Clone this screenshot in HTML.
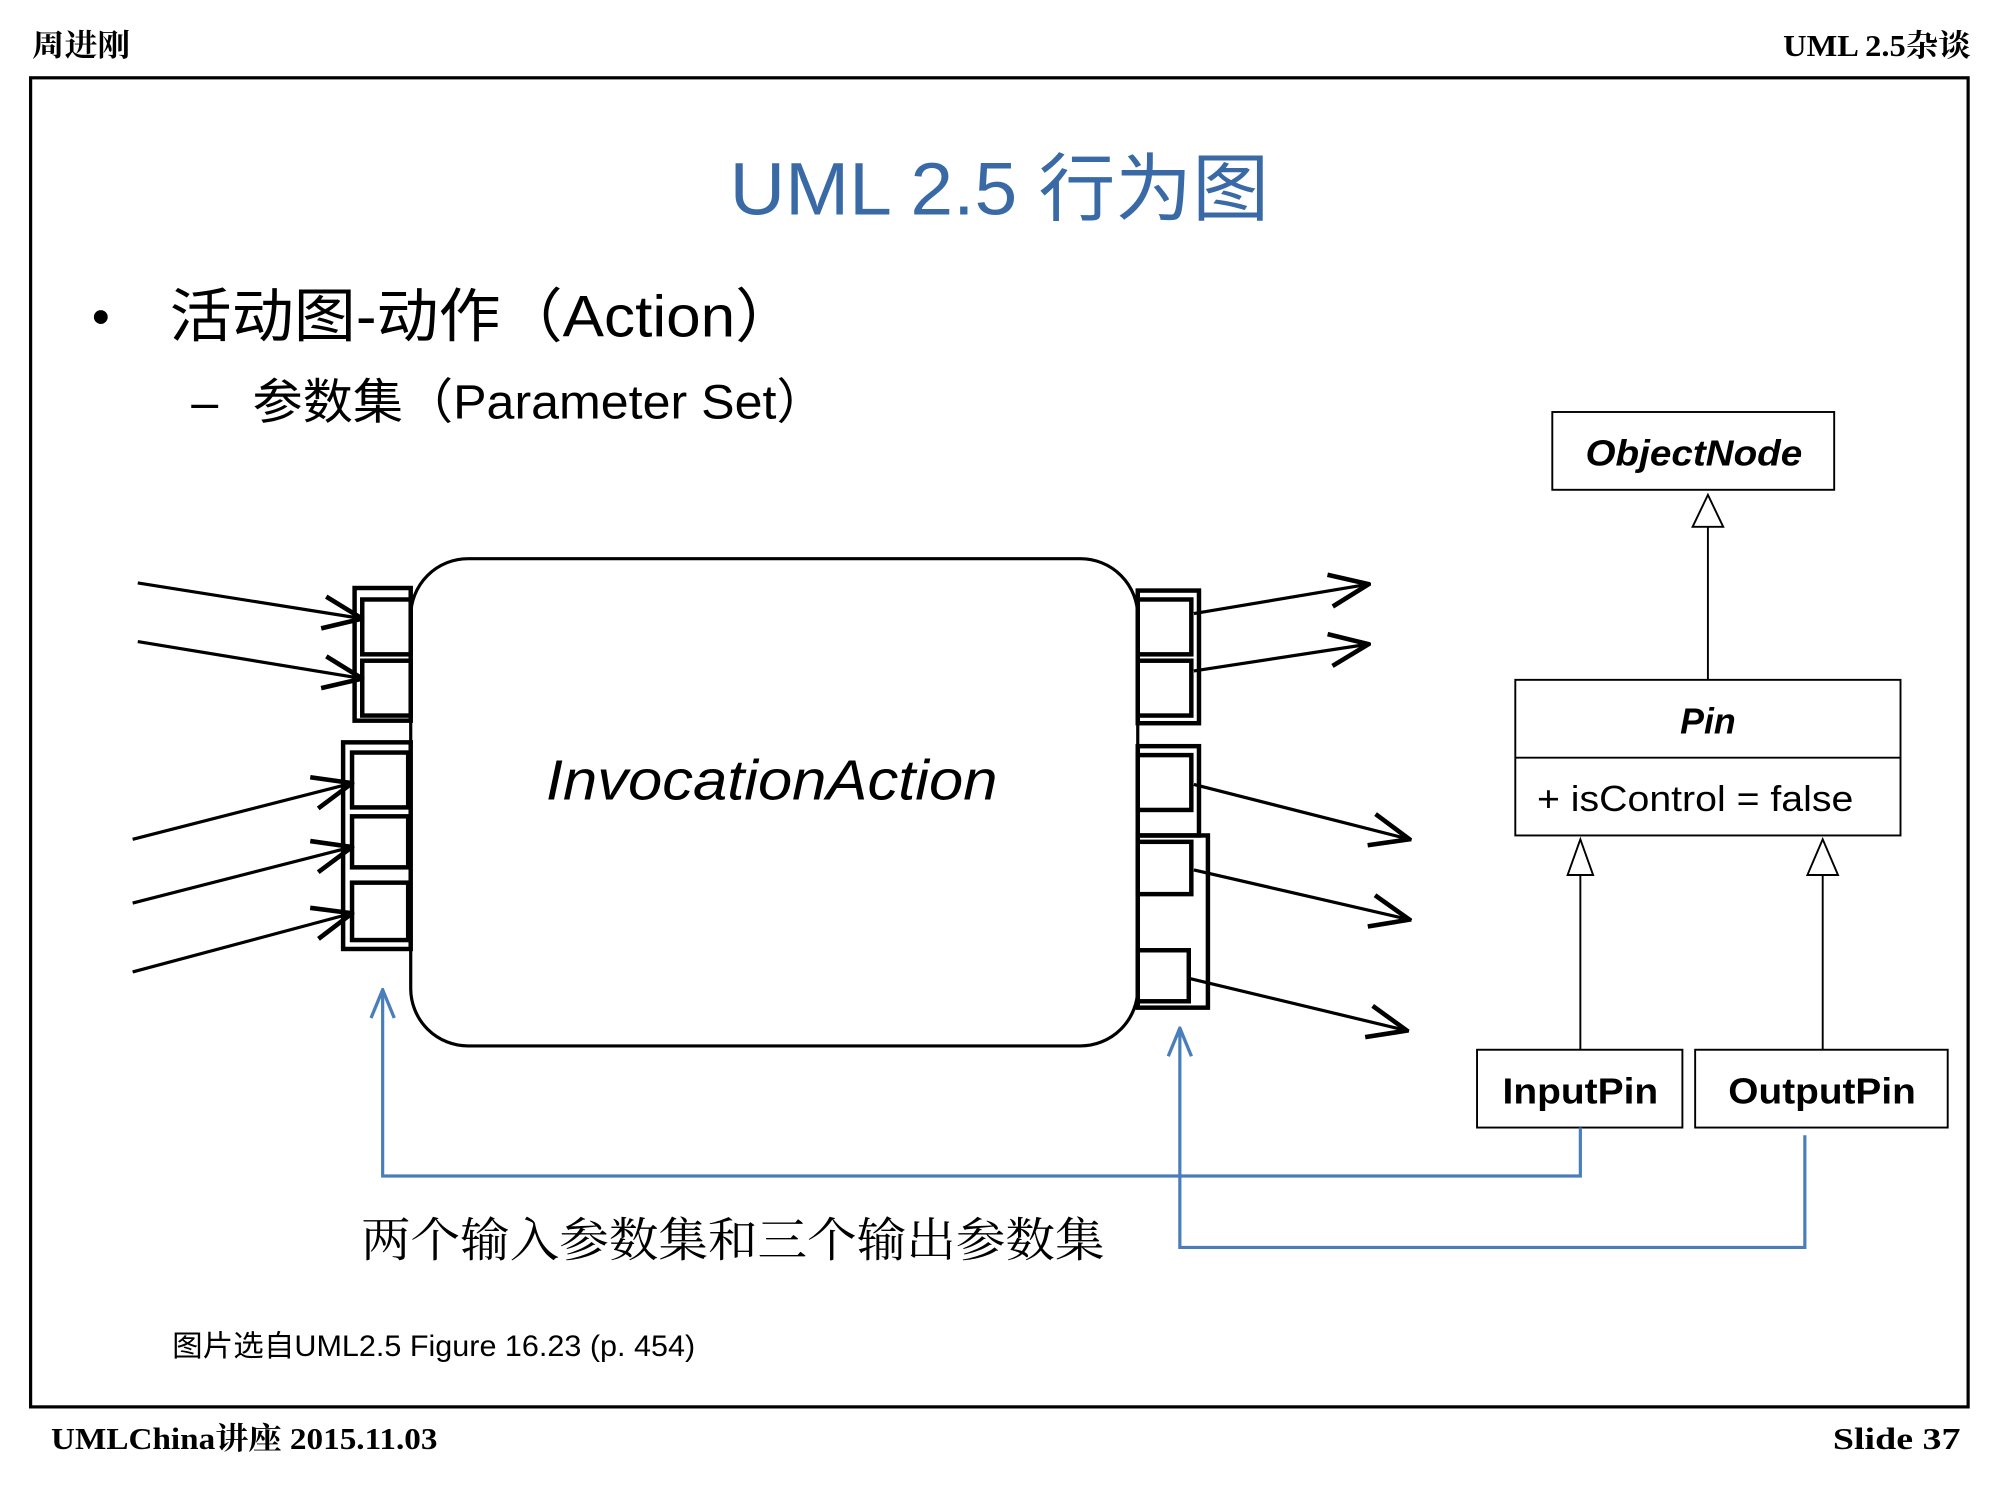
<!DOCTYPE html>
<html><head><meta charset="utf-8"><style>
html,body{margin:0;padding:0;background:#fff;}
svg{display:block;}
</style></head><body>
<svg width="2000" height="1500" viewBox="0 0 1568 1176" xmlns="http://www.w3.org/2000/svg">
<defs>
<marker id="oa" viewBox="0 0 20 20" refX="19" refY="10" markerWidth="36" markerHeight="36" markerUnits="userSpaceOnUse" orient="auto">
<path d="M2 3 L19 10 L2 17" fill="none" stroke="#000" stroke-width="2"/>
</marker>
<marker id="ba" viewBox="0 0 20 20" refX="19" refY="10" markerWidth="26" markerHeight="26" markerUnits="userSpaceOnUse" orient="auto">
<path d="M2 3 L19 10 L2 17" fill="none" stroke="#4a7ebb" stroke-width="2"/>
</marker>
</defs>
<g font-family="'Liberation Serif','Noto Serif CJK SC',serif" font-weight="bold" font-size="24" fill="#000">
<text x="25" y="44" textLength="77" lengthAdjust="spacingAndGlyphs">周进刚</text>
<text x="1398" y="44" textLength="147" lengthAdjust="spacingAndGlyphs">UML 2.5杂谈</text>
<text x="40" y="1136" textLength="303" lengthAdjust="spacingAndGlyphs">UMLChina讲座 2015.11.03</text>
<text x="1437" y="1136" textLength="100" lengthAdjust="spacingAndGlyphs">Slide   37</text>
</g>
<rect x="24" y="61" width="1519" height="1042" fill="none" stroke="#000" stroke-width="2.5"/>
<text x="572" y="168" textLength="423" lengthAdjust="spacingAndGlyphs" font-family="'Liberation Sans','Noto Sans CJK SC',sans-serif" font-size="58" fill="#3a6aa5">UML 2.5 行为图</text>
<g font-family="'Liberation Sans','Noto Sans CJK SC',sans-serif" fill="#000">
<text x="72" y="262" font-size="40">•</text>
<text x="133" y="264" font-size="46" textLength="492" lengthAdjust="spacingAndGlyphs">活动图-动作（Action）</text>
<text x="150" y="328" font-size="38">–</text>
<text x="198" y="328" font-size="38" textLength="450" lengthAdjust="spacingAndGlyphs">参数集（Parameter Set）</text>
<text x="283" y="985" font-size="37" textLength="583" lengthAdjust="spacingAndGlyphs" font-family="'Liberation Serif','Noto Serif CJK SC',serif">两个输入参数集和三个输出参数集</text>
<text x="135" y="1063" font-size="23" textLength="410" lengthAdjust="spacingAndGlyphs">图片选自UML2.5 Figure 16.23 (p. 454)</text>
</g>
<g stroke="#000" stroke-width="1.5" fill="#fff">
<rect x="1217" y="323" width="221" height="61"/>
<line x1="1339" y1="413" x2="1339" y2="533"/>
<path d="M1339 388 L1327 413 L1351 413 Z"/>
<rect x="1188" y="533" width="302" height="122"/>
<line x1="1188" y1="594" x2="1490" y2="594"/>
<line x1="1239" y1="686" x2="1239" y2="823"/>
<line x1="1429" y1="686" x2="1429" y2="823"/>
<path d="M1239 658 L1229 686 L1249 686 Z"/>
<path d="M1429 658 L1417 686 L1441 686 Z"/>
<rect x="1158" y="823" width="161" height="61"/>
<rect x="1329" y="823" width="198" height="61"/>
</g>
<g font-family="'Liberation Sans',sans-serif" font-size="28" fill="#000">
<text x="1243" y="365" font-weight="bold" font-style="italic" textLength="170" lengthAdjust="spacingAndGlyphs">ObjectNode</text>
<text x="1339" y="575" font-weight="bold" font-style="italic" text-anchor="middle">Pin</text>
<text x="1205" y="636" textLength="248" lengthAdjust="spacingAndGlyphs">+ isControl = false</text>
<text x="1178" y="865" font-weight="bold" textLength="122" lengthAdjust="spacingAndGlyphs">InputPin</text>
<text x="1355" y="865" font-weight="bold" textLength="147" lengthAdjust="spacingAndGlyphs">OutputPin</text>
</g>
<g fill="none" stroke="#4a7ebb" stroke-width="2.5">
<polyline points="1239,884 1239,922 300,922 300,776" marker-end="url(#ba)"/>
<polyline points="1415,890 1415,978 925,978 925,806" marker-end="url(#ba)"/>
</g>
<rect x="322" y="438" width="570" height="382" rx="45" fill="#fff" stroke="#000" stroke-width="2.5"/>
<text x="428" y="627" textLength="354" lengthAdjust="spacingAndGlyphs" font-family="'Liberation Sans',sans-serif" font-style="italic" font-size="44">InvocationAction</text>
<g fill="none" stroke="#000" stroke-width="3.5">
<rect x="278" y="461" width="44" height="104"/>
<rect x="284" y="470" width="38" height="43"/>
<rect x="284" y="518" width="38" height="43"/>
<rect x="269" y="582" width="53" height="162"/>
<rect x="276" y="590" width="44" height="43"/>
<rect x="276" y="640" width="44" height="40"/>
<rect x="276" y="692" width="44" height="45"/>
<rect x="892" y="463" width="48" height="104"/>
<rect x="892" y="470" width="42" height="43"/>
<rect x="892" y="518" width="42" height="43"/>
<rect x="892" y="585" width="48" height="70"/>
<rect x="892" y="592" width="42" height="43"/>
<rect x="892" y="655" width="55" height="135"/>
<rect x="892" y="660" width="42" height="41"/>
<rect x="892" y="745" width="40" height="40"/>
</g>
<g stroke="#000" stroke-width="2.5" fill="none">
<line x1="108" y1="457" x2="284" y2="485" marker-end="url(#oa)"/>
<line x1="108" y1="503" x2="284" y2="532" marker-end="url(#oa)"/>
<line x1="104" y1="658" x2="276" y2="614" marker-end="url(#oa)"/>
<line x1="104" y1="708" x2="276" y2="664" marker-end="url(#oa)"/>
<line x1="104" y1="762" x2="276" y2="716" marker-end="url(#oa)"/>
<line x1="936" y1="481" x2="1073" y2="458" marker-end="url(#oa)"/>
<line x1="936" y1="526" x2="1073" y2="505" marker-end="url(#oa)"/>
<line x1="936" y1="615" x2="1105" y2="658" marker-end="url(#oa)"/>
<line x1="936" y1="682" x2="1105" y2="721" marker-end="url(#oa)"/>
<line x1="932" y1="767" x2="1103" y2="808" marker-end="url(#oa)"/>
</g>
</svg>
</body></html>
